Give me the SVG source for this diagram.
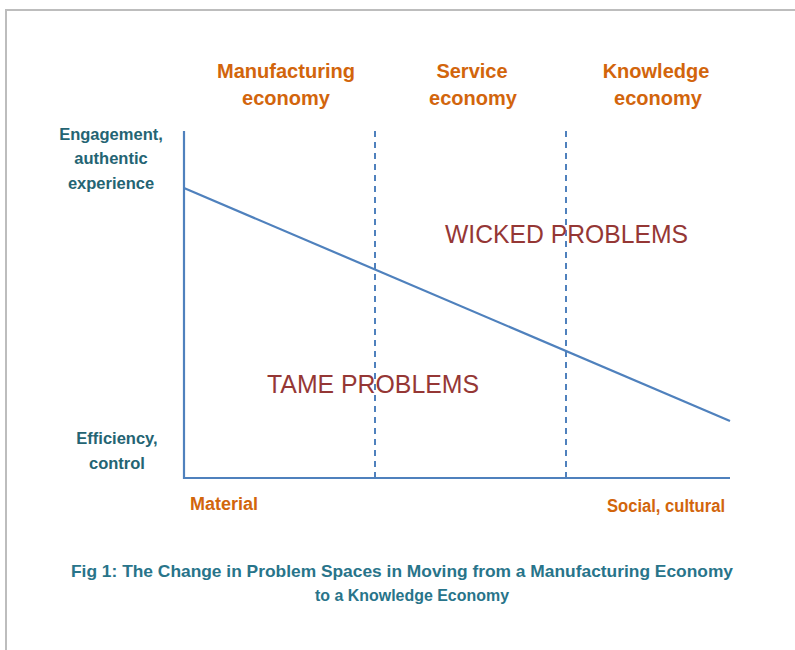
<svg xmlns="http://www.w3.org/2000/svg" width="795" height="650" viewBox="0 0 795 650">
<style>
.sec{font-family:"Liberation Sans",Arial,sans-serif;font-weight:bold;font-size:20px;fill:#D2650C;text-anchor:middle}
.ax{font-family:"Liberation Sans",Arial,sans-serif;font-weight:bold;font-size:16.5px;fill:#246473;text-anchor:middle}
.xl{font-family:"Liberation Sans",Arial,sans-serif;font-weight:bold;font-size:17.5px;fill:#D2650C}
.big{font-family:"Liberation Sans",Arial,sans-serif;font-size:26px;fill:#953735}
.cap{font-family:"Liberation Sans",Arial,sans-serif;font-weight:bold;font-size:17px;fill:#28748A;text-anchor:middle}
.axis{stroke:#4F81BD;stroke-width:2.2;fill:none}
.dash{stroke:#4F81BD;stroke-width:2;stroke-dasharray:6 5;fill:none}
</style>
<rect width="795" height="650" fill="#fff"/>
<path d="M6 650 V10 H795" stroke="#BDBDBD" stroke-width="2" fill="none"/>
<g id="connectors">
<path class="axis" d="M184 131 V478 H730"/>
<line class="dash" x1="375" y1="131" x2="375" y2="477"/>
<line class="dash" x1="566" y1="131" x2="566" y2="477"/>
<line class="axis" x1="184" y1="188" x2="730" y2="421"/>
</g>
<g id="manufacturing"><text class="sec" x="286" y="78" textLength="138" lengthAdjust="spacingAndGlyphs">Manufacturing</text><text class="sec" x="286" y="105">economy</text></g>
<g id="service"><text class="sec" x="472" y="78">Service</text><text class="sec" x="473" y="105">economy</text></g>
<g id="knowledge"><text class="sec" x="656" y="78">Knowledge</text><text class="sec" x="658" y="105">economy</text></g>
<g id="engagement"><text class="ax" x="111" y="140">Engagement,</text><text class="ax" x="111" y="164">authentic</text><text class="ax" x="111" y="189">experience</text></g>
<g id="efficiency"><text class="ax" x="117" y="444">Efficiency,</text><text class="ax" x="117" y="469">control</text></g>
<g id="material"><text class="xl" x="190" y="510" textLength="68" lengthAdjust="spacingAndGlyphs">Material</text></g>
<g id="social"><text class="xl" x="607" y="512" textLength="118" lengthAdjust="spacingAndGlyphs">Social, cultural</text></g>
<g id="wicked"><text class="big" x="445" y="243" textLength="243" lengthAdjust="spacingAndGlyphs">WICKED PROBLEMS</text></g>
<g id="tame"><text class="big" x="267" y="393" textLength="212" lengthAdjust="spacingAndGlyphs">TAME PROBLEMS</text></g>
<g id="caption"><text class="cap" x="402" y="577" textLength="662" lengthAdjust="spacingAndGlyphs">Fig 1: The Change in Problem Spaces in Moving from a Manufacturing Economy</text><text class="cap" x="412" y="601" textLength="194" lengthAdjust="spacingAndGlyphs">to a Knowledge Economy</text></g>
</svg>
